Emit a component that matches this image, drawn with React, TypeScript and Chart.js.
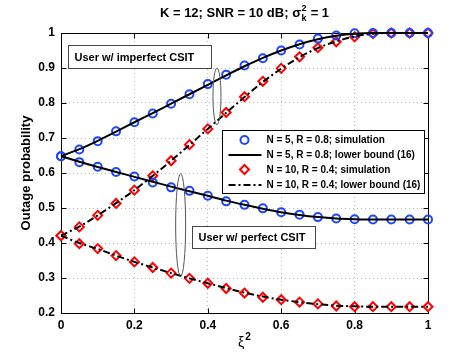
import React, { useEffect, useRef } from 'react';
import { Chart, registerables } from 'chart.js';

Chart.register(...registerables);

const FONT = '"Liberation Sans", Arial, Helvetica, sans-serif';

// ---- data ----
const xi2 = [0, 0.05, 0.1, 0.15, 0.2, 0.25, 0.3, 0.35, 0.4, 0.45, 0.5, 0.55, 0.6, 0.65, 0.7, 0.75, 0.8, 0.85, 0.9, 0.95, 1];

const simImperfectN5 = [0.648, 0.667, 0.691, 0.719, 0.745, 0.770, 0.798, 0.825, 0.854, 0.881, 0.907, 0.928, 0.950, 0.967, 0.984, 0.993, 0.999, 1.0, 1.0, 1.0, 1.0];
const simPerfectN5 = [0.648, 0.631, 0.618, 0.603, 0.590, 0.573, 0.559, 0.549, 0.535, 0.519, 0.509, 0.499, 0.488, 0.481, 0.474, 0.470, 0.468, 0.467, 0.467, 0.467, 0.467];
const simImperfectN10 = [0.421, 0.446, 0.479, 0.513, 0.551, 0.592, 0.635, 0.681, 0.726, 0.773, 0.818, 0.862, 0.899, 0.932, 0.958, 0.975, 0.989, 0.998, 1.0, 1.0, 1.0];
const simPerfectN10 = [0.421, 0.398, 0.384, 0.364, 0.346, 0.330, 0.314, 0.299, 0.285, 0.270, 0.257, 0.245, 0.238, 0.231, 0.226, 0.220, 0.218, 0.218, 0.218, 0.218, 0.218];

const boundImperfectN5 = [0.648, 0.668, 0.692, 0.718, 0.745, 0.771, 0.798, 0.825, 0.852, 0.879, 0.905, 0.929, 0.950, 0.968, 0.982, 0.992, 0.998, 1.0, 1.0, 1.0, 1.0];
const boundPerfectN5 = [0.648, 0.632, 0.617, 0.603, 0.589, 0.575, 0.561, 0.548, 0.535, 0.521, 0.509, 0.498, 0.488, 0.480, 0.474, 0.470, 0.468, 0.467, 0.467, 0.467, 0.467];
const boundImperfectN10 = [0.421, 0.447, 0.479, 0.514, 0.551, 0.592, 0.635, 0.680, 0.726, 0.772, 0.817, 0.860, 0.898, 0.931, 0.957, 0.976, 0.990, 0.998, 1.0, 1.0, 1.0];
const boundPerfectN10 = [0.421, 0.400, 0.383, 0.364, 0.346, 0.330, 0.314, 0.299, 0.285, 0.271, 0.258, 0.247, 0.238, 0.231, 0.225, 0.221, 0.219, 0.218, 0.218, 0.218, 0.218];

const xTicks = [0, 0.2, 0.4, 0.6, 0.8, 1];
const yTicks = [0.2, 0.3, 0.4, 0.5, 0.6, 0.7, 0.8, 0.9, 1];

const legendLabels = [
  'N = 5, R = 0.8; simulation',
  'N = 5, R = 0.8; lower bound (16)',
  'N = 10, R = 0.4; simulation',
  'N = 10, R = 0.4; lower bound (16)',
];

const titleMain = 'K = 12; SNR = 10 dB; \u03C3';
const titleSup = '2';
const titleSub = 'k';
const titleEnd = ' = 1';
const xTitleMain = '\u03BE';
const xTitleSup = '2';
const yTitle = 'Outage probability';
const noteImperfect = 'User w/ imperfect CSIT';
const notePerfect = 'User w/ perfect CSIT';

const BLUE = 'rgb(30,70,255)';
const RED = 'rgb(255,0,0)';
const DASHDOT = [7, 3, 2, 3];

const pts = (ys: number[]) => ys.map((y, i) => ({ x: xi2[i], y }));

function drawMarker(ctx: CanvasRenderingContext2D, kind: string, x: number, y: number) {
  ctx.save();
  ctx.lineWidth = 2;
  if (kind === 'circle') {
    ctx.strokeStyle = BLUE;
    ctx.beginPath();
    ctx.arc(x, y, 4, 0, Math.PI * 2);
    ctx.stroke();
  } else {
    ctx.strokeStyle = RED;
    ctx.fillStyle = '#fff';
    ctx.beginPath();
    ctx.moveTo(x, y - 4.5);
    ctx.lineTo(x + 4.5, y);
    ctx.lineTo(x, y + 4.5);
    ctx.lineTo(x - 4.5, y);
    ctx.closePath();
    ctx.fill();
    ctx.stroke();
  }
  ctx.restore();
}

const decorPlugin = {
  id: 'decor',
  beforeDatasetsDraw(chart: any) {
    const { ctx, chartArea: a, scales } = chart;
    const l = Math.round(a.left) + 0.5;
    const t = Math.round(a.top) + 0.5;
    const r = Math.round(a.right) + 0.5;
    const b = Math.round(a.bottom) + 0.5;
    ctx.save();
    ctx.strokeStyle = '#000';
    ctx.lineWidth = 1;
    ctx.strokeRect(l, t, r - l, b - t);
    ctx.beginPath();
    xTicks.forEach((v) => {
      const px = Math.round(scales.x.getPixelForValue(v)) + 0.5;
      ctx.moveTo(px, b);
      ctx.lineTo(px, b - 5);
      ctx.moveTo(px, t);
      ctx.lineTo(px, t + 5);
    });
    yTicks.forEach((v) => {
      const py = Math.round(scales.y.getPixelForValue(v)) + 0.5;
      ctx.moveTo(l, py);
      ctx.lineTo(l + 5, py);
      ctx.moveTo(r, py);
      ctx.lineTo(r - 5, py);
    });
    ctx.stroke();
    ctx.restore();
  },
  afterDraw(chart: any) {
    const { ctx, chartArea: a, scales } = chart;
    const X = (v: number) => scales.x.getPixelForValue(v);
    const Y = (v: number) => scales.y.getPixelForValue(v);
    ctx.save();

    // title with stacked super/subscript
    const big = `bold 13px ${FONT}`;
    const small = `bold 9px ${FONT}`;
    ctx.font = big;
    const w1 = ctx.measureText(titleMain).width;
    const w3 = ctx.measureText(titleEnd).width;
    ctx.font = small;
    const w2 = Math.max(ctx.measureText(titleSup).width, ctx.measureText(titleSub).width);
    const total = w1 + w2 + 1 + w3;
    let tx = (a.left + a.right) / 2 - total / 2;
    const base = 17;
    ctx.fillStyle = '#000';
    ctx.textBaseline = 'alphabetic';
    ctx.textAlign = 'left';
    ctx.font = big;
    ctx.fillText(titleMain, tx, base);
    tx += w1 + 0.5;
    ctx.font = small;
    ctx.fillText(titleSup, tx, base - 6);
    ctx.fillText(titleSub, tx, base + 4);
    tx += w2 + 0.5;
    ctx.font = big;
    ctx.fillText(titleEnd, tx, base);

    // x-axis title: xi with superscript 2
    const xiFont = `14px ${FONT}`;
    const xiSup = `bold 10px ${FONT}`;
    ctx.font = xiFont;
    const wx = ctx.measureText(xTitleMain).width;
    ctx.font = xiSup;
    const wxs = ctx.measureText(xTitleSup).width;
    let xx = (a.left + a.right) / 2 - (wx + wxs + 1) / 2;
    const xb = 347;
    ctx.font = xiFont;
    ctx.fillText(xTitleMain, xx, xb);
    xx += wx + 1;
    ctx.font = xiSup;
    ctx.fillText(xTitleSup, xx, xb - 7);

    // ellipses
    ctx.strokeStyle = '#555';
    ctx.lineWidth = 1;
    const ell = (cx: number, y0: number, y1: number, rx: number) => {
      const px = X(cx);
      const p0 = Y(y0);
      const p1 = Y(y1);
      ctx.beginPath();
      ctx.ellipse(px, (p0 + p1) / 2, rx, Math.abs(p1 - p0) / 2, 0, 0, Math.PI * 2);
      ctx.stroke();
    };
    ell(0.425, 0.9, 0.738, 4);
    ell(0.326, 0.598, 0.305, 5);

    // annotation boxes
    const note = (text: string, x0: number, x1: number, y0: number, y1: number) => {
      const l = Math.round(X(x0)) + 0.5;
      const r = Math.round(X(x1)) + 0.5;
      const t = Math.round(Y(y0)) + 0.5;
      const b = Math.round(Y(y1)) + 0.5;
      ctx.fillStyle = '#fff';
      ctx.fillRect(l, t, r - l, b - t);
      ctx.strokeStyle = '#444';
      ctx.lineWidth = 1;
      ctx.strokeRect(l, t, r - l, b - t);
      ctx.fillStyle = '#000';
      ctx.font = `bold 11px ${FONT}`;
      ctx.textBaseline = 'middle';
      ctx.textAlign = 'left';
      ctx.fillText(text, l + 6, (t + b) / 2 + 0.5);
    };
    note(noteImperfect, 0.018, 0.408, 0.965, 0.899);
    note(notePerfect, 0.358, 0.693, 0.449, 0.385);

    // legend
    ctx.font = `bold 10px ${FONT}`;
    const tw = Math.max(...legendLabels.map((s) => ctx.measureText(s).width));
    const lx = Math.round(X(0.439)) + 0.5;
    const ly = Math.round(Y(0.724)) + 0.5;
    const lw = Math.round(44 + tw + 4);
    const lh = 63;
    ctx.fillStyle = '#fff';
    ctx.fillRect(lx, ly, lw, lh);
    ctx.strokeStyle = '#000';
    ctx.lineWidth = 1;
    ctx.strokeRect(lx, ly, lw, lh);
    const rowY = [9.5, 24.5, 39, 54.5];
    legendLabels.forEach((lab, i) => {
      const cy = ly + rowY[i];
      if (i === 0) drawMarker(ctx, 'circle', lx + 22, cy);
      if (i === 2) drawMarker(ctx, 'diamond', lx + 22, cy);
      if (i === 1 || i === 3) {
        ctx.save();
        ctx.strokeStyle = '#000';
        ctx.lineWidth = 2;
        ctx.setLineDash(i === 3 ? DASHDOT : []);
        ctx.beginPath();
        ctx.moveTo(lx + 6, cy);
        ctx.lineTo(lx + 39, cy);
        ctx.stroke();
        ctx.restore();
      }
      ctx.fillStyle = '#000';
      ctx.textBaseline = 'middle';
      ctx.textAlign = 'left';
      ctx.fillText(lab, lx + 44, cy + 0.5);
    });
    ctx.restore();
  },
};

export default function App() {
  const ref = useRef<HTMLCanvasElement | null>(null);

  useEffect(() => {
    if (!ref.current) return;
    const sim = (ys: number[], kind: 'circle' | 'rectRot', order: number) => ({
      label: '',
      data: pts(ys),
      showLine: false,
      pointStyle: kind,
      pointRadius: kind === 'circle' ? 4 : 4.5,
      pointBorderWidth: 2,
      pointBorderColor: kind === 'circle' ? BLUE : RED,
      pointBackgroundColor: kind === 'circle' ? 'rgba(0,0,0,0)' : '#fff',
      borderColor: kind === 'circle' ? BLUE : RED,
      clip: false,
      order,
    });
    const bound = (ys: number[], dashed: boolean, order: number) => ({
      label: '',
      data: pts(ys),
      showLine: true,
      borderColor: '#000',
      borderWidth: 2,
      borderDash: dashed ? DASHDOT : [],
      pointRadius: 0,
      cubicInterpolationMode: 'monotone',
      fill: false,
      clip: false,
      order,
    });

    const chart = new Chart(ref.current, {
      type: 'line',
      data: {
        datasets: [
          bound(boundImperfectN5, false, 1),
          bound(boundPerfectN5, false, 1),
          bound(boundImperfectN10, true, 2),
          bound(boundPerfectN10, true, 2),
          sim(simImperfectN5, 'circle', 3),
          sim(simPerfectN5, 'circle', 3),
          sim(simImperfectN10, 'rectRot', 4),
          sim(simPerfectN10, 'rectRot', 4),
        ] as any,
      },
      options: {
        animation: false,
        responsive: false,
        devicePixelRatio: 1,
        layout: { padding: { top: 33, right: 43, left: 0, bottom: 0 } },
        plugins: {
          legend: { display: false },
          tooltip: { enabled: false },
          title: { display: false },
        },
        scales: {
          x: {
            type: 'linear',
            min: 0,
            max: 1,
            afterBuildTicks: (s: any) => {
              s.ticks = xTicks.map((v) => ({ value: v }));
            },
            afterFit: (s: any) => {
              s.height = 40;
            },
            ticks: {
              padding: 5,
              color: '#000',
              font: { family: FONT, size: 12, weight: 'bold' },
              callback: (v: any) => String(Number(Number(v).toFixed(1))),
            },
            grid: {
              drawTicks: false,
              color: '#b8b8b8',
              lineWidth: 1,
            },
            border: { display: false, dash: [1, 3] },
            title: { display: false },
          },
          y: {
            type: 'linear',
            min: 0.2,
            max: 1,
            afterBuildTicks: (s: any) => {
              s.ticks = yTicks.map((v) => ({ value: v }));
            },
            afterFit: (s: any) => {
              s.width = 61;
            },
            ticks: {
              padding: 6,
              color: '#000',
              font: { family: FONT, size: 12, weight: 'bold' },
              callback: (v: any) => String(Number(Number(v).toFixed(1))),
            },
            grid: {
              drawTicks: false,
              color: '#b8b8b8',
              lineWidth: 1,
            },
            border: { display: false, dash: [1, 3] },
            title: {
              display: true,
              text: yTitle,
              color: '#000',
              font: { family: FONT, size: 13, weight: 'bold' },
              padding: { top: 19, bottom: 0 },
            },
          },
        },
      } as any,
      plugins: [decorPlugin],
    });
    return () => chart.destroy();
  }, []);

  return (
    <div style={{ position: 'fixed', left: 0, top: 0, width: 471, height: 353, background: '#fff' }}>
      <canvas ref={ref} width={471} height={353} style={{ width: 471, height: 353, display: 'block' }} />
    </div>
  );
}
